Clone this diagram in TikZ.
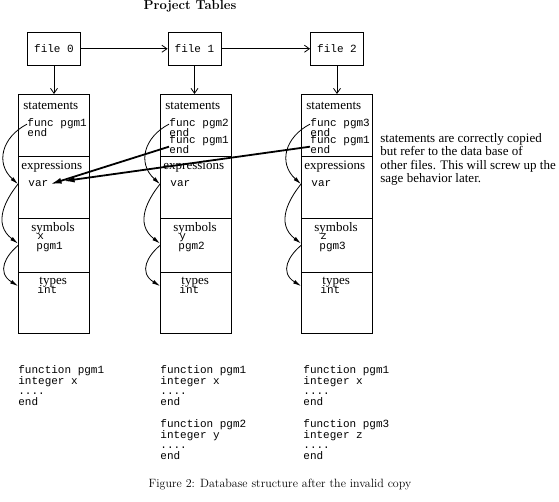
\documentclass[tikz,border=0pt]{standalone}
\usepackage{fontspec}
\setmonofont{Liberation Mono}
\newfontfamily\notefont{Liberation Serif}
\usetikzlibrary{arrows.meta}

\newcommand{\lbfont}{\notefont\fontsize{13}{13.4}\selectfont}
\newcommand{\cdfont}{\ttfamily\fontsize{11}{10.7}\selectfont}

\begin{document}
\begin{tikzpicture}
			[x=1pt,y=-1pt,line width=0.8pt,
			filebox/.style={draw,minimum width=53pt,minimum height=32.5pt,inner sep=0pt,font=\cdfont},
			part/.style={draw,minimum width=71pt,anchor=north west,inner sep=0pt},
			lbl/.style={anchor=base west,inner sep=0pt,font=\lbfont},
			code/.style={anchor=base west,inner sep=0pt,font=\cdfont},
			block/.style={anchor=north west,inner sep=0pt,align=left,font=\cdfont},
			link/.style={-{Latex[length=8pt,width=4pt]}},
			badcopy/.style={-{Latex[length=11pt,width=6pt]},line width=1.8pt}]
			\useasboundingbox (0,0) rectangle (559,502);
			\node[font=\bfseries\fontsize{13}{15}\selectfont,anchor=base] (title) at (190,10) {Project Tables};

			% file nodes
			\node[filebox] (F0) at (54,48.75) {file 0};
			\node[filebox] (F1) at (194.5,48.75) {file 1};
			\node[filebox] (F2) at (337,48.75) {file 2};

			% table parts
			\node[part,minimum height=62pt] (S0) at (18,94) {};
			\node[part,minimum height=62pt] (E0) at (18,156) {};
			\node[part,minimum height=54pt] (Y0) at (18,218) {};
			\node[part,minimum height=61pt] (T0) at (18,272) {};
			\node[part,minimum height=62pt] (S1) at (160,94) {};
			\node[part,minimum height=62pt] (E1) at (160,156) {};
			\node[part,minimum height=54pt] (Y1) at (160,218) {};
			\node[part,minimum height=61pt] (T1) at (160,272) {};
			\node[part,minimum height=62pt] (S2) at (301,94) {};
			\node[part,minimum height=62pt] (E2) at (301,156) {};
			\node[part,minimum height=54pt] (Y2) at (301,218) {};
			\node[part,minimum height=61pt] (T2) at (301,272) {};

			\path[-{Straight Barb[length=5pt,width=7pt]}]
			(F0) edge (F1)
			(F1) edge (F2)
			(F0.south) edge (F0.south |- S0.north)
			(F1.south) edge (F1.south |- S1.north)
			(F2.south) edge (F2.south |- S2.north);

			% file 0
			\node[lbl] (st0) at (23,110) {statements};
			\node[code] (fa0) at (27,127) {func pgm1};
			\node[code] (ea0) at (27,137) {end};
			\node[lbl] (ex0) at (21,170) {expressions};
			\node[code] (V0) at (28,187) {var};
			\node[lbl] (sy0) at (31,232) {symbols};
			\node[code] (x0) at (37,240) {x};
			\node[code] (P0) at (36,250) {pgm1};
			\node[lbl] (ty0) at (39,285) {types};
			\node[code] (I0) at (37,294) {int};

			% file 1
			\node[lbl] (st1) at (165,110) {statements};
			\node[code] (fa1) at (169,127) {func pgm2};
			\node[code] (ea1) at (169,137) {end};
			\node[code] (fb1) at (169,144) {func pgm1};
			\node[code] (eb1) at (169,154) {end};
			\node[lbl] (ex1) at (163,170) {expressions};
			\node[code] (V1) at (170,187) {var};
			\node[lbl] (sy1) at (173,232) {symbols};
			\node[code] (x1) at (179,240) {y};
			\node[code] (P1) at (178,250) {pgm2};
			\node[lbl] (ty1) at (181,285) {types};
			\node[code] (I1) at (179,294) {int};

			% file 2
			\node[lbl] (st2) at (306,110) {statements};
			\node[code] (fa2) at (310,127) {func pgm3};
			\node[code] (ea2) at (310,137) {end};
			\node[code] (fb2) at (310,144) {func pgm1};
			\node[code] (eb2) at (310,154) {end};
			\node[lbl] (ex2) at (304,170) {expressions};
			\node[code] (V2) at (311,187) {var};
			\node[lbl] (sy2) at (314,232) {symbols};
			\node[code] (x2) at (320,240) {z};
			\node[code] (P2) at (319,250) {pgm3};
			\node[lbl] (ty2) at (322,285) {types};
			\node[code] (I2) at (320,294) {int};

			% links inside each table
			\draw[link] (fa0.west) .. controls +(-25,13) and +(-23,-21) .. (E0.west |- V0);
			\draw[link] (E0.west |- V0) .. controls +(-12,15) and +(-26,-20) .. ([yshift=4pt]Y0.west |- P0);
			\draw[link] ([yshift=2pt]Y0.west |- P0) .. controls +(-12,10) and +(-22,-14) .. ([yshift=4pt]T0.west |- I0);
			\draw[link] (fa1.west) .. controls +(-25,13) and +(-23,-21) .. (E1.west |- V1);
			\draw[link] (E1.west |- V1) .. controls +(-12,15) and +(-26,-20) .. ([yshift=4pt]Y1.west |- P1);
			\draw[link] ([yshift=2pt]Y1.west |- P1) .. controls +(-12,10) and +(-22,-14) .. ([yshift=4pt]T1.west |- I1);
			\draw[link] (fa2.west) .. controls +(-25,13) and +(-23,-21) .. (E2.west |- V2);
			\draw[link] (E2.west |- V2) .. controls +(-12,15) and +(-26,-20) .. ([yshift=4pt]Y2.west |- P2);
			\draw[link] ([yshift=2pt]Y2.west |- P2) .. controls +(-12,10) and +(-22,-14) .. ([yshift=4pt]T2.west |- I2);

			% the invalid copies
			\draw[badcopy] (fb1.south west) -- ([xshift=2pt]V0.east);
			\draw[badcopy] (fb2.south west) -- ([xshift=15pt,yshift=3pt]V0.east);

			\node[anchor=north west,inner sep=0pt,align=left,font=\lbfont] (note) at (380,133)
			{statements are correctly copied\\but refer to the data base of\\other files. This will screw up the\\sage behavior later.};

			% source listings
			\node[block] (c0) at (18,365) {function pgm1\\integer x\\....\\end};
			\node[block] (c1) at (160,365) {function pgm1\\integer x\\....\\end};
			\node[block] (c1b) at (160,419) {function pgm2\\integer y\\....\\end};
			\node[block] (c2) at (303,365) {function pgm1\\integer x\\....\\end};
			\node[block] (c2b) at (303,419) {function pgm3\\integer z\\....\\end};

			\node[font=\fontsize{12}{14}\selectfont,anchor=base] (caption) at (280,487)
			{Figure 2: Database structure after the invalid copy};
		\end{tikzpicture}
\end{document}
